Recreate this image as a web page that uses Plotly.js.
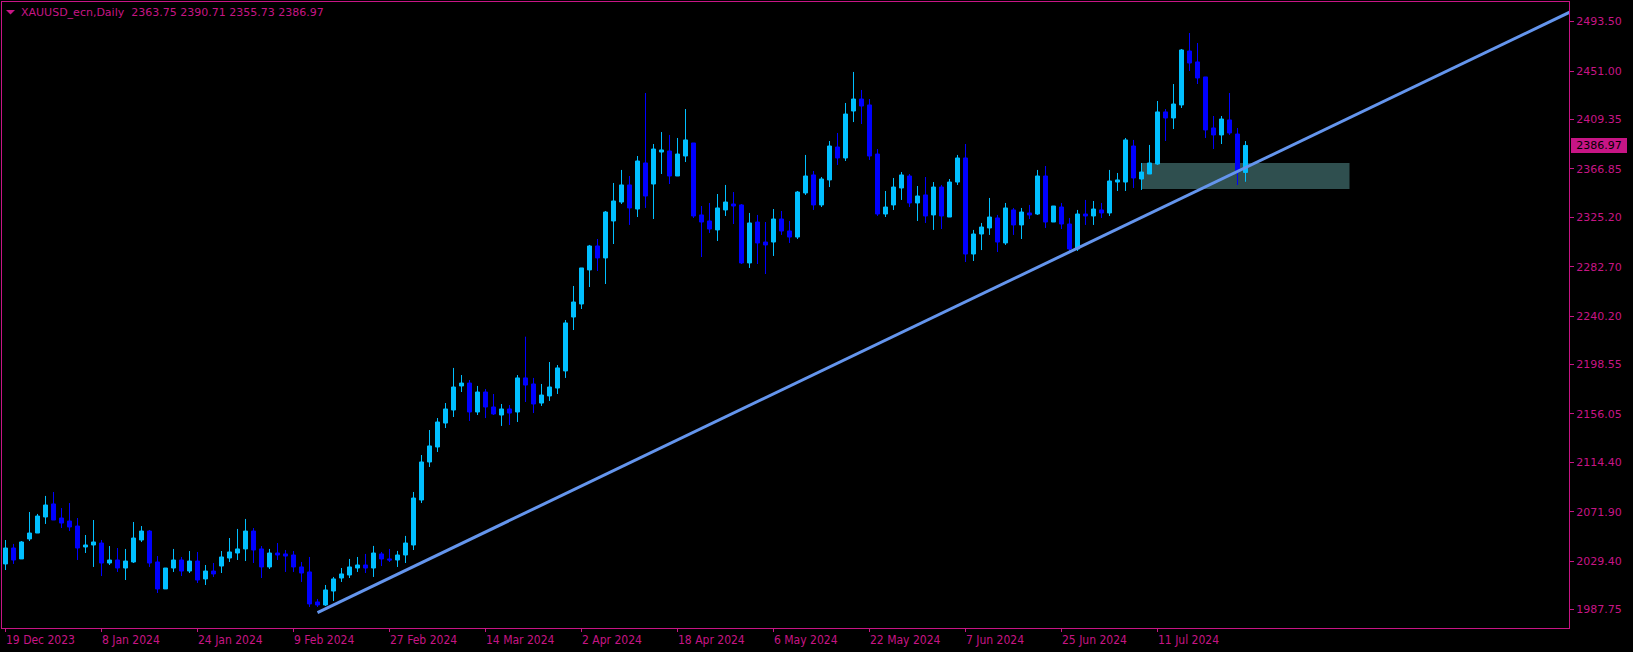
<!DOCTYPE html>
<html>
<head>
<meta charset="utf-8">
<script src="https://cdn.plot.ly/plotly-3.0.1.min.js"></script>
<style>
html,body{margin:0;padding:0;background:#000;}
#chart{width:1633px;height:652px;}
</style>
</head>
<body>
<div id="chart"></div>
<script>
// ---- Data (XAUUSD daily) ----
const symbolTitle = 'XAUUSD_ecn,Daily';
const openP = [2027.0,2040.7,2031.3,2048.5,2053.6,2067.4,2078.6,2066.5,2063.9,2059.6,
2041.6,2043.3,2045.0,2027.8,2030.4,2023.5,2028.7,2047.6,2055.3,2028.7,
2005.5,2023.5,2030.4,2020.9,2029.5,2014.1,2020.9,2025.2,2032.1,2036.4,
2039.9,2055.3,2039.9,2024.4,2036.4,2035.6,2034.7,2024.4,2020.1,1994.3,
1991.7,2003.7,2014.9,2017.5,2023.5,2026.1,2023.5,2035.6,2031.3,2030.4,
2034.7,2043.3,2082.0,2114.7,2127.6,2148.2,2159.4,2180.1,2182.6,2157.7,
2174.9,2162.0,2155.1,2160.3,2157.7,2187.0,2181.8,2165.4,2171.5,2178.3,
2193.0,2239.4,2250.6,2279.9,2300.5,2290.2,2322.0,2338.3,2353.0,2332.3,
2371.9,2353.8,2381.3,2382.2,2360.7,2377.9,2389.1,2327.2,2322.0,2314.3,
2331.5,2336.6,2335.8,2285.9,2321.1,2303.9,2303.9,2323.7,2313.4,2308.2,
2346.1,2361.6,2335.8,2357.3,2385.6,2376.2,2416.6,2426.9,2421.8,2379.6,
2328.0,2335.8,2350.4,2360.7,2337.5,2344.4,2327.2,2351.2,2325.4,2355.5,
2376.2,2293.6,2310.8,2316.0,2324.6,2303.1,2331.5,2318.6,2328.9,2328.0,
2360.7,2321.1,2334.0,2319.4,2297.9,2328.0,2326.3,2331.5,2328.9,2355.5,
2355.5,2386.5,2358.1,2362.4,2371.0,2415.8,2410.6,2421.8,2468.2,2458.8,
2445.9,2402.0,2396.0,2408.9,2396.8,2363.75];
const highP = [2047.6,2044.2,2046.7,2071.7,2070.0,2085.5,2088.9,2075.1,2079.4,2066.5,
2051.9,2064.8,2047.6,2042.4,2040.7,2039.9,2063.1,2059.6,2056.2,2033.8,
2023.5,2039.9,2033.0,2038.1,2037.3,2026.1,2027.8,2038.1,2049.3,2057.1,
2065.7,2057.9,2042.4,2039.9,2045.0,2039.0,2038.1,2028.7,2033.0,1996.9,
2008.9,2015.8,2023.5,2031.3,2033.0,2035.6,2042.5,2037.3,2039.9,2038.2,
2051.1,2088.9,2120.7,2142.2,2152.5,2165.4,2195.6,2189.5,2185.2,2180.1,
2177.5,2173.2,2164.6,2163.7,2189.5,2222.5,2187.0,2181.8,2200.7,2198.1,
2236.8,2266.1,2281.6,2301.4,2306.5,2330.6,2354.7,2365.9,2360.7,2377.9,
2432.1,2388.2,2398.5,2396.0,2393.4,2418.3,2389.1,2334.9,2337.5,2345.2,
2353.0,2346.9,2336.6,2328.9,2327.2,2321.1,2332.3,2330.6,2322.0,2347.8,
2378.8,2365.0,2359.8,2390.8,2397.7,2423.5,2450.2,2434.7,2426.9,2383.9,
2347.8,2359.0,2364.1,2362.4,2352.1,2359.8,2355.5,2353.0,2358.1,2378.8,
2388.2,2314.3,2320.3,2341.8,2327.2,2337.5,2333.2,2333.2,2335.8,2365.9,
2369.3,2334.9,2337.5,2324.6,2331.5,2340.1,2339.2,2337.5,2365.9,2363.3,
2393.4,2391.7,2371.9,2387.4,2425.2,2418.3,2439.8,2469.9,2483.7,2475.1,
2445.9,2412.3,2412.3,2432.1,2402.0,2390.71];
const lowP = [2021.8,2027.0,2031.3,2046.7,2053.6,2061.4,2064.8,2057.9,2055.3,2030.4,
2036.4,2024.4,2016.6,2026.1,2020.1,2013.2,2027.8,2045.9,2024.4,2002.0,
2005.5,2020.1,2016.6,2019.2,2010.6,2008.9,2015.8,2019.2,2028.7,2030.4,
2029.5,2027.8,2014.9,2022.7,2030.4,2020.1,2020.1,2011.5,1990.0,1990.0,
1990.8,1995.1,2011.5,2014.9,2020.1,2019.2,2015.8,2025.2,2028.7,2024.4,
2027.8,2039.0,2079.4,2110.4,2123.3,2143.9,2153.4,2174.9,2150.0,2155.1,
2152.5,2155.1,2145.7,2146.5,2149.1,2166.3,2156.8,2162.9,2167.2,2173.2,
2187.0,2228.2,2246.3,2265.2,2279.0,2267.8,2302.2,2336.6,2318.6,2325.4,
2333.2,2323.7,2362.4,2353.8,2360.7,2372.7,2324.6,2291.0,2311.7,2304.8,
2326.3,2319.4,2285.0,2281.6,2285.0,2276.4,2291.9,2310.0,2303.1,2306.5,
2344.4,2331.5,2334.0,2351.2,2370.2,2373.6,2407.1,2405.4,2374.5,2326.3,
2325.4,2331.5,2340.1,2334.0,2322.0,2320.3,2314.3,2315.1,2325.4,2353.0,
2286.7,2287.6,2297.0,2310.0,2295.3,2301.4,2310.0,2306.5,2323.7,2327.2,
2316.0,2321.1,2315.1,2296.2,2296.2,2318.6,2318.6,2324.6,2326.3,2347.8,
2347.8,2350.4,2348.7,2362.4,2370.2,2390.8,2401.1,2419.2,2451.0,2439.8,
2393.4,2383.9,2388.2,2396.0,2353.0,2355.73];
const closeP = [2040.7,2030.4,2045.9,2053.6,2068.2,2077.7,2064.8,2062.2,2058.8,2040.7,
2043.3,2045.9,2027.8,2030.4,2023.5,2029.5,2049.3,2055.3,2027.8,2005.5,
2023.5,2030.4,2020.9,2029.5,2013.2,2020.9,2018.4,2033.0,2037.3,2039.9,
2055.3,2039.0,2024.4,2036.4,2034.7,2033.8,2024.4,2019.2,1992.6,1991.7,
2004.6,2014.1,2018.4,2024.4,2026.1,2023.5,2036.4,2031.3,2030.4,2034.7,
2045.0,2083.7,2114.7,2128.5,2149.1,2160.3,2179.2,2182.6,2157.7,2174.9,
2162.0,2156.0,2160.3,2156.8,2187.0,2180.9,2164.6,2172.3,2179.2,2195.6,
2234.3,2252.3,2281.6,2300.5,2290.2,2329.7,2339.2,2353.0,2333.2,2373.6,
2343.5,2383.9,2383.1,2360.7,2379.6,2391.7,2326.3,2321.1,2315.1,2333.2,
2338.3,2334.9,2285.9,2320.3,2303.1,2301.4,2323.7,2313.4,2308.2,2346.9,
2360.7,2335.8,2358.1,2386.5,2376.2,2414.0,2426.9,2420.9,2377.9,2328.0,
2334.0,2351.2,2361.6,2337.5,2343.5,2326.3,2351.2,2326.3,2355.5,2376.2,
2293.6,2310.8,2316.8,2325.4,2303.9,2333.2,2318.6,2329.7,2327.2,2360.7,
2321.1,2334.9,2319.4,2297.9,2328.0,2326.3,2332.3,2328.9,2356.4,2357.3,
2391.7,2359.0,2364.1,2371.9,2415.8,2410.6,2422.6,2469.1,2457.9,2445.0,
2400.3,2396.0,2409.7,2397.7,2364.1,2386.97];

// x-axis date labels, one every 12 bars
const tickLabels = ['19 Dec 2023','8 Jan 2024','24 Jan 2024','9 Feb 2024','27 Feb 2024',
  '14 Mar 2024','2 Apr 2024','18 Apr 2024','6 May 2024','22 May 2024','7 Jun 2024',
  '25 Jun 2024','11 Jul 2024'];
const tickEvery = 12;
// price axis labels
const priceTicks = [1987.75,2029.40,2071.90,2114.40,2156.05,2198.55,2240.20,2282.70,
  2325.20,2366.85,2409.35,2451.00,2493.50];
// trend line anchors (bar index, price)
const trendBars = [39, 196];
const trendPrices = [1985.2, 2503.2];
// support zone (bar index range, price range)
const zoneBars = [142, 168];
const zonePrices = [2349.5, 2371.9];

// ---- Styling ----
const MAG = '#C71585';
const BULL = '#00BFFF';
const BEAR = '#0000FF';
const W = 1633, H = 652;
const M = {l: 2, r: 64, t: 2, b: 24};
const plotW = W - M.l - M.r, plotH = H - M.t - M.b;
const barPx = 8, firstBarPx = 3.5;  // pixel position of bar 0 inside plot
const xRange = [(0 - firstBarPx) / barPx, (plotW - firstBarPx) / barPx];
const yRange = [1971.9, 2510.36];

const barIdx = openP.map((_, i) => i);
const lastIdx = closeP.length - 1;

const px2paperX = p => (p - M.l) / plotW;
const px2paperY = p => (H - M.b - p) / plotH;

const traces = [
  {
    type: 'candlestick',
    x: barIdx, open: openP, high: highP, low: lowP, close: closeP,
    increasing: {line: {color: BULL, width: 1}, fillcolor: BULL},
    decreasing: {line: {color: BEAR, width: 1}, fillcolor: BEAR},
    whiskerwidth: 0,
    hoverinfo: 'skip',
    showlegend: false
  },
  {
    type: 'scatter', mode: 'lines',
    x: trendBars, y: trendPrices,
    line: {color: '#6495ED', width: 3},
    hoverinfo: 'skip', showlegend: false
  }
];

const annotations = tickLabels.map((t, k) => ({
  text: t, x: k * tickEvery, xref: 'x', xanchor: 'left',
  y: 0, yref: 'paper', yanchor: 'middle', yshift: -12,
  showarrow: false, borderpad: 0, borderwidth: 0,
  font: {family: '"DejaVu Sans Condensed", "Liberation Sans Narrow", "DejaVu Sans", sans-serif', size: 12, color: MAG}
}));
annotations.push({
  text: symbolTitle + '\u00a0\u00a0' + [openP[lastIdx], highP[lastIdx], lowP[lastIdx], closeP[lastIdx]].map(v => v.toFixed(2)).join(' '),
  x: px2paperX(21), xref: 'paper', xanchor: 'left',
  y: px2paperY(12.5), yref: 'paper', yanchor: 'middle',
  showarrow: false, borderpad: 0, borderwidth: 0,
  font: {family: '"DejaVu Sans", sans-serif', size: 11, color: MAG}
});
annotations.push({
  text: closeP[lastIdx].toFixed(2),
  x: 1, xref: 'paper', xanchor: 'left', xshift: 2,
  y: closeP[lastIdx], yref: 'y', yanchor: 'middle',
  showarrow: false, bgcolor: MAG, borderpad: 1, borderwidth: 0,
  width: 54, align: 'center',
  font: {family: '"DejaVu Sans", sans-serif', size: 11, color: '#000000'}
});

const tri = `M ${px2paperX(6)} ${px2paperY(10)} L ${px2paperX(15)} ${px2paperY(10)} L ${px2paperX(10.5)} ${px2paperY(14.5)} Z`;

const layout = {
  width: W, height: H,
  margin: M,
  paper_bgcolor: '#000000', plot_bgcolor: '#000000',
  showlegend: false,
  boxgap: 0.5, boxgroupgap: 0,
  xaxis: {
    type: 'linear', range: xRange, fixedrange: true,
    rangeslider: {visible: false},
    showgrid: false, zeroline: false,
    showline: true, linecolor: MAG, linewidth: 1, mirror: true,
    tickmode: 'array', tickvals: tickLabels.map((_, k) => k * tickEvery),
    ticks: 'outside', ticklen: 3, tickcolor: MAG, tickwidth: 1,
    showticklabels: false
  },
  yaxis: {
    side: 'right', range: yRange, fixedrange: true,
    showgrid: false, zeroline: false,
    showline: true, linecolor: MAG, linewidth: 1, mirror: true,
    tickmode: 'array', tickvals: priceTicks, ticktext: priceTicks.map(v => v.toFixed(2)),
    ticks: 'outside', ticklen: 4, tickcolor: MAG, tickwidth: 1,
    tickfont: {family: '"DejaVu Sans", sans-serif', size: 11, color: MAG}
  },
  shapes: [
    {type: 'rect', xref: 'x', yref: 'y', x0: zoneBars[0], x1: zoneBars[1],
     y0: zonePrices[0], y1: zonePrices[1], fillcolor: '#2F4F4F', line: {width: 0}, layer: 'below'},
    {type: 'path', xref: 'paper', yref: 'paper', path: tri, fillcolor: MAG, line: {width: 0}}
  ],
  annotations: annotations
};

Plotly.newPlot('chart', traces, layout, {displayModeBar: false, staticPlot: true});
</script>
</body>
</html>
